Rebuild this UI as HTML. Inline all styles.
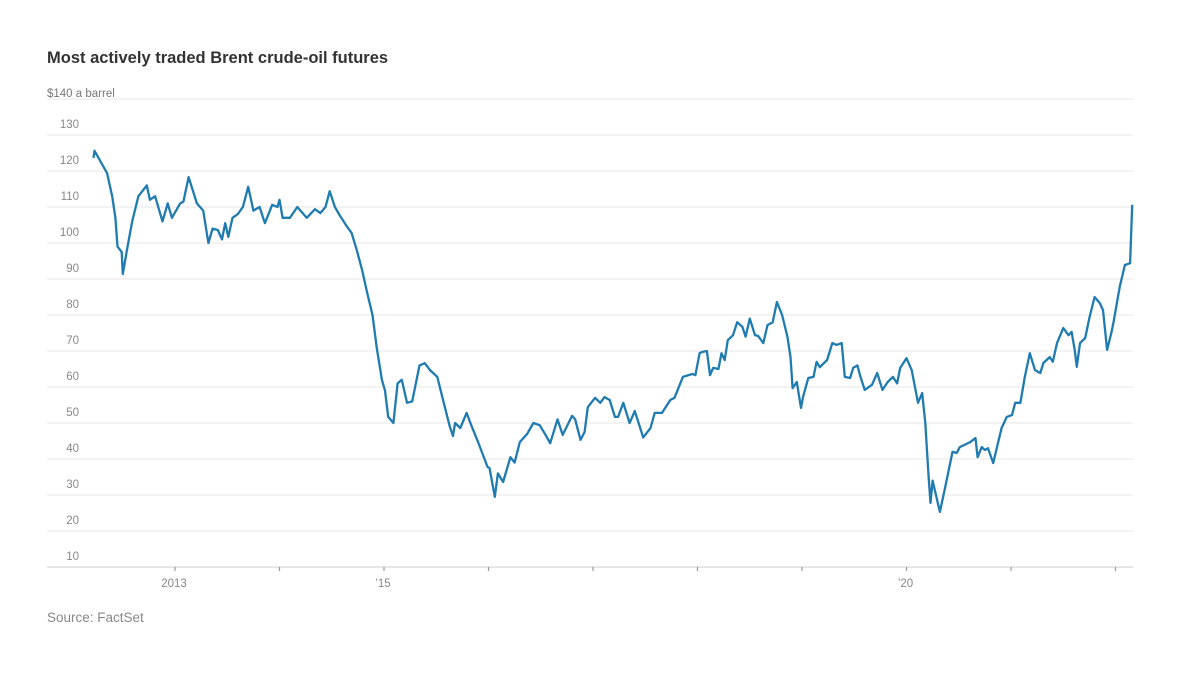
<!DOCTYPE html>
<html><head><meta charset="utf-8"><style>
body{margin:0;background:#fff;font-family:"Liberation Sans",sans-serif;}
svg{display:block}
</style></head><body>
<svg width="1200" height="675" id="chart">
<text x="47" y="63" font-size="16.5" font-weight="bold" fill="#333">Most actively traded Brent crude-oil futures</text>
<text x="47" y="97" font-size="11.5" fill="#777">$140 a barrel</text>
<text x="47" y="622" font-size="13.5" fill="#888">Source: FactSet</text>
<g id="grid"></g><g id="xax"></g><g id="plot"></g>
</svg>
<script>
const priceDates=[2012.22,2012.23,2012.28,2012.35,2012.40,2012.43,2012.45,2012.49,2012.50,2012.54,2012.59,2012.65,2012.73,2012.76,2012.81,2012.88,2012.93,2012.97,2013.05,2013.08,2013.13,2013.21,2013.27,2013.32,2013.36,2013.41,2013.45,2013.48,2013.51,2013.55,2013.60,2013.65,2013.70,2013.75,2013.81,2013.86,2013.93,2013.98,2014.00,2014.03,2014.10,2014.17,2014.26,2014.34,2014.39,2014.44,2014.48,2014.53,2014.58,2014.65,2014.69,2014.74,2014.79,2014.84,2014.89,2014.93,2014.98,2015.01,2015.04,2015.09,2015.13,2015.17,2015.22,2015.27,2015.34,2015.39,2015.44,2015.51,2015.56,2015.63,2015.66,2015.68,2015.73,2015.79,2015.84,2015.90,2015.99,2016.01,2016.06,2016.09,2016.14,2016.21,2016.25,2016.30,2016.37,2016.43,2016.49,2016.54,2016.59,2016.66,2016.71,2016.80,2016.83,2016.88,2016.92,2016.95,2017.02,2017.07,2017.11,2017.16,2017.21,2017.24,2017.29,2017.35,2017.40,2017.48,2017.55,2017.59,2017.66,2017.74,2017.78,2017.86,2017.95,2017.98,2018.02,2018.04,2018.09,2018.12,2018.15,2018.20,2018.23,2018.26,2018.29,2018.34,2018.38,2018.43,2018.46,2018.50,2018.55,2018.58,2018.63,2018.67,2018.72,2018.76,2018.81,2018.86,2018.89,2018.91,2018.95,2018.99,2019.01,2019.06,2019.11,2019.14,2019.17,2019.24,2019.29,2019.33,2019.38,2019.41,2019.46,2019.49,2019.53,2019.56,2019.60,2019.67,2019.72,2019.77,2019.82,2019.87,2019.91,2019.94,2020.00,2020.05,2020.11,2020.15,2020.18,2020.21,2020.23,2020.25,2020.32,2020.37,2020.44,2020.48,2020.51,2020.61,2020.66,2020.68,2020.72,2020.75,2020.78,2020.83,2020.91,2020.96,2021.01,2021.04,2021.09,2021.13,2021.18,2021.23,2021.28,2021.31,2021.37,2021.40,2021.44,2021.50,2021.55,2021.58,2021.61,2021.63,2021.66,2021.71,2021.75,2021.80,2021.85,2021.88,2021.92,2021.96,2021.98,2022.04,2022.09,2022.14,2022.16];
const priceValues=[123.6,125.6,123,119.4,112.8,107,99,97.5,91.4,98,106,113,116,112,113,106,111,107,111,111.5,118.3,111,109,100,104,103.6,101,105.5,101.7,107,108,110,115.6,109,110,105.5,110.6,110,112,107,107,110,107,109.4,108.3,110,114.4,110,107.5,104.4,102.8,98,92.5,86,80,71,62,59,51.7,50,61,62,55.6,56,66,66.6,64.7,62.8,57,49,46.4,50,48.6,52.8,49,44.7,37.8,37.5,29.5,36,33.6,40.5,39,44.7,47,50,49.4,47,44.4,51,46.7,52,51,45.3,47.5,54.4,57,55.6,57.2,56.4,51.7,51.7,55.6,50,53.3,46,48.6,52.8,52.8,56.4,57,62.8,63.6,63.3,69.4,69.7,70,63.3,65.3,65,69.4,67.5,73,74.4,78,76.7,74,79,74.4,74.2,72.2,77.2,78,83.6,80,74,68.3,59.7,61.4,54.2,57.2,62.5,62.8,67,65.5,67.5,72.2,71.7,72.2,62.8,62.5,65.3,66,62.8,59.2,60.6,63.9,59.2,61.4,62.8,61,65.3,68,64.7,55.6,58.3,50,36,27.8,34,25.3,32.2,42,41.7,43.3,44.7,45.8,40.5,43.3,42.5,43,38.9,48.6,51.7,52.2,55.6,55.6,62.5,69.4,64.7,63.9,66.7,68.3,67,72.2,76.4,74.4,75.3,70.3,65.6,72.2,73.6,79.2,85,83.3,81.4,70.3,75,77.8,87.8,93.9,94.4,110.6];
const yTicks=[10,20,30,40,50,60,70,80,90,100,110,120,130,140];
const xTickYears=[2013,2014,2015,2016,2017,2018,2019,2020,2021,2022];
const xTickLabels={2013:"2013",2015:"\u201915",2020:"\u201920"};

const X0=175,PX_PER_YEAR=104.5,Y0=99,PX_PER_USD=3.6;
function xs(d){return X0+(d-2013)*PX_PER_YEAR;}
function ys(v){return Y0+(140-v)*PX_PER_USD;}
const NS="http://www.w3.org/2000/svg";
function mk(tag,attrs,parent){const e=document.createElementNS(NS,tag);for(const k in attrs)e.setAttribute(k,attrs[k]);parent.appendChild(e);return e;}
const grid=document.getElementById('grid'),xax=document.getElementById('xax'),plot=document.getElementById('plot');
yTicks.forEach(v=>{
  const l=mk('line',{x1:47,x2:1133,y1:ys(v),y2:ys(v),stroke:v===10?'#d8d8d8':'#ececec','stroke-width':1.3},grid);
  
  
  if(v!==140){
    const t=mk('text',{x:79,y:ys(v)-7,'text-anchor':'end','font-size':11.5,fill:'#888'},grid);
    t.textContent=v;
    
    
  }
});
xTickYears.forEach(yr=>{
  const l=mk('line',{x1:xs(yr),x2:xs(yr),y1:ys(10),y2:ys(10)+4,stroke:'#999','stroke-width':1.2},xax);
  
  
  if(xTickLabels[yr]){
    const t=mk('text',{x:xs(yr)-1,y:ys(10)+20,'text-anchor':'middle','font-size':11.5,fill:'#888'},xax);
    t.textContent=xTickLabels[yr];
    
    
  }
});
const pts=priceDates.map((d,i)=>xs(d).toFixed(1)+','+ys(priceValues[i]).toFixed(1)).join(' ');
const line=mk('polyline',{points:pts,fill:'none',stroke:'#1f7bb0','stroke-width':2.3,'stroke-linejoin':'round'},plot);


</script>
</body></html>
